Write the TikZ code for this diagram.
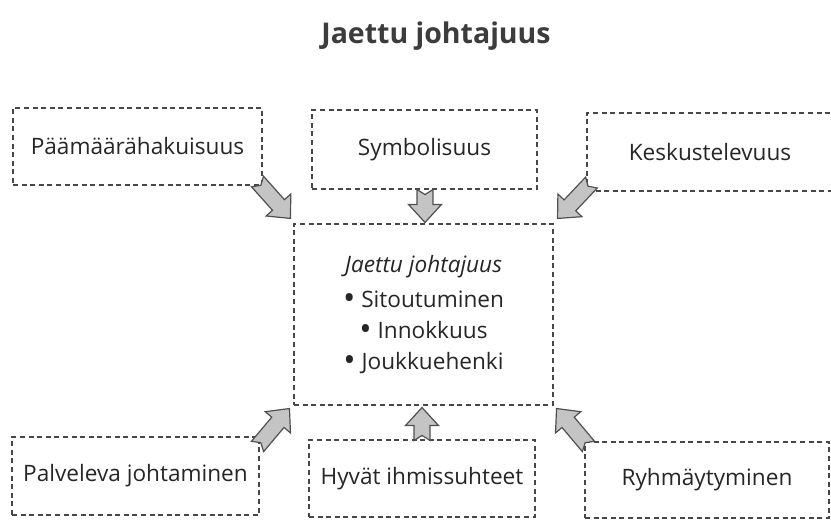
\documentclass[tikz,border=0pt]{standalone}
\usepackage{fontspec}
\setmainfont{Open Sans}
\usetikzlibrary{calc}

\definecolor{ink}{HTML}{262626}
\definecolor{frame}{HTML}{474747}
\definecolor{arrowfill}{HTML}{C4C4C4}
\definecolor{arrowline}{HTML}{505050}

\newcommand\listdot{\raisebox{-0.1em}{\scalebox{1.45}{•}}}

\tikzset{
  box/.style={draw=frame, line width=1.1pt, dash pattern=on 5pt off 3.6pt,
    fill=white, inner sep=0pt, text=ink,
    font=\fontsize{22.6}{27}\selectfont},
  core/.style={box, align=center, font=\fontsize{22.6}{31}\selectfont},
  heading/.style={text=ink!90, font=\fontsize{28.5}{33}\selectfont\bfseries},
  flow/.style={fill=arrowfill, draw=arrowline, line width=1.2pt, line join=miter},
}

% notched block arrow from tail #1 to tip #2
\newcommand\flowarrow[2]{%
  \coordinate (hb) at ($(#2)!18pt!(#1)$);
  \filldraw[flow] ($(#1)!8pt!90:(#2)$) -- ($(#1)!5pt!(#2)$)
    -- ($(#1)!8pt!-90:(#2)$) -- ($(hb)!8pt!-90:(#2)$)
    -- ($(hb)!16.5pt!-90:(#2)$) -- (#2) -- ($(hb)!16.5pt!90:(#2)$)
    -- ($(hb)!8pt!90:(#2)$) -- cycle;
}

\begin{document}
\begin{tikzpicture}[x=1pt, y=-1pt]
  \useasboundingbox (0,0) rectangle (831,521);
  \clip (0,0) rectangle (831,521);
  \fill[white] (0,0) rectangle (831,521);

  \node[heading] (title) at (436,36) {Jaettu johtajuus};

  % outer factors
  \node[box, minimum width=249pt, minimum height=77pt] (p1) at (137.5,146.5) {Päämäärähakuisuus};
  \node[box, minimum width=225pt, minimum height=79pt] (p2) at (424.5,149.5) {Symbolisuus};
  \node[box, minimum width=246pt, minimum height=78pt] (p3) at (710,152) {Keskustelevuus};
  \node[box, minimum width=247pt, minimum height=78pt] (b1) at (135.5,476) {Palveleva johtaminen};
  \node[box, minimum width=226pt, minimum height=77pt] (b2) at (422,478.5) {Hyvät ihmissuhteet};
  \node[box, minimum width=244pt, minimum height=76pt] (b3) at (707,480) {Ryhmäytyminen};

  % centre
  \node[core, minimum width=259pt, minimum height=181pt] (c) at (423.5,314.5)
    {\textit{Jaettu johtajuus}\\[4pt]\listdot\ Sitoutuminen\\\listdot\ Innokkuus\\\listdot\ Joukkuehenki};

  % arrow ends
  \coordinate (t1) at ($(p1.south east)+(-5,-4)$);
  \coordinate (h1) at ($(c.north west)+(-3,-5)$);
  \coordinate (t2) at ($(p2.south)+(0.5,0)$);
  \coordinate (h2) at ($(c.north)+(1.5,-1)$);
  \coordinate (t3) at ($(p3.south west)+(5,-9)$);
  \coordinate (h3) at ($(c.north east)+(4,-5)$);
  \coordinate (t4) at ($(b1.north east)+(-2,10)$);
  \coordinate (h4) at ($(c.south west)+(-4,3)$);
  \coordinate (t5) at ($(b2.north)+(0,1)$);
  \coordinate (h5) at ($(c.south)+(-1.5,2)$);
  \coordinate (t6) at ($(b3.north west)+(4,5)$);
  \coordinate (h6) at ($(c.south east)+(3,3)$);

  \flowarrow{t1}{h1}
  \flowarrow{t2}{h2}
  \flowarrow{t3}{h3}
  \flowarrow{t4}{h4}
  \flowarrow{t5}{h5}
  \flowarrow{t6}{h6}
\end{tikzpicture}
\end{document}
